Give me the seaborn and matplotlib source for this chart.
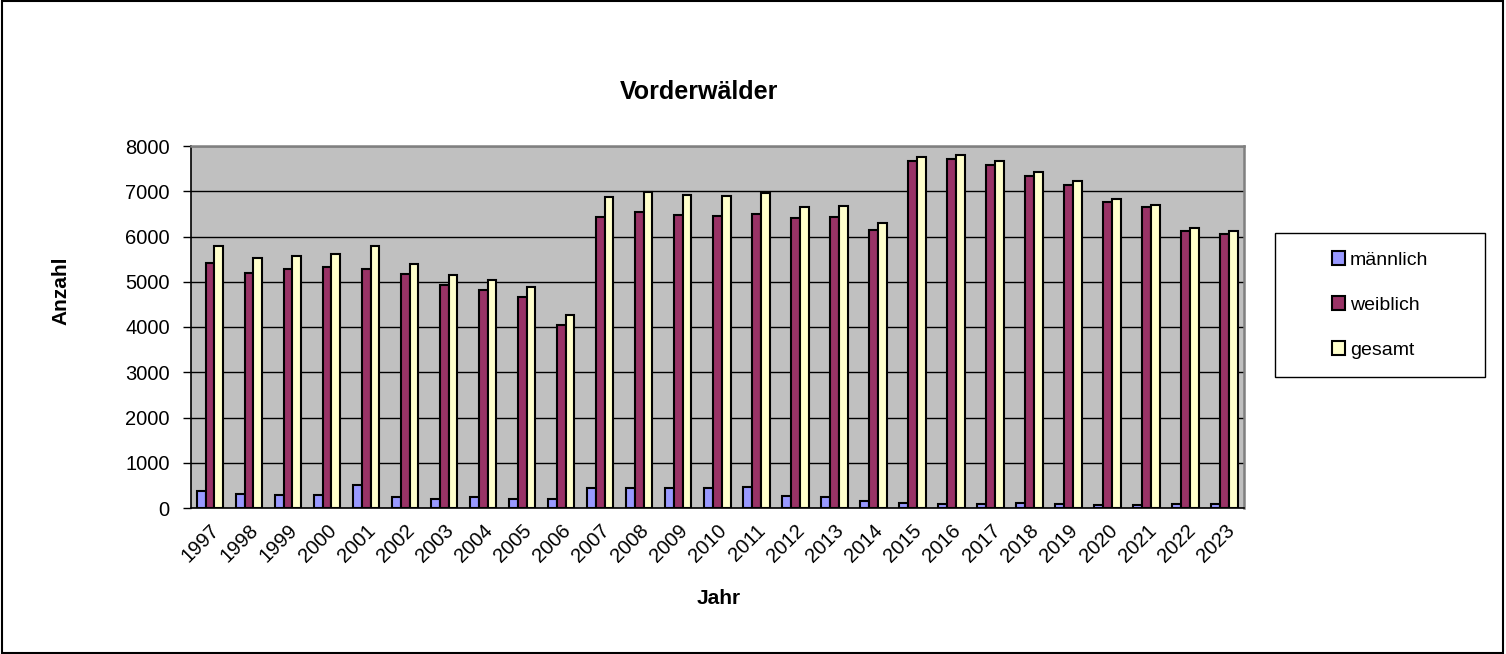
import numpy as np
import pandas as pd
import seaborn as sns
import matplotlib.pyplot as plt
from matplotlib.patches import Rectangle

# Jahre und Anzahl Tiere je Geschlecht
years = [str(y) for y in range(1997, 2024)]
maennlich = [368, 316, 294, 294, 500, 235, 206, 235, 206, 206, 434, 434, 434, 434, 456,
             257, 235, 147, 110, 88, 88, 110, 88, 66, 66, 88, 88]
weiblich = [5419, 5199, 5287, 5331, 5287, 5176, 4934, 4824, 4669, 4051, 6434, 6544, 6478,
            6456, 6500, 6412, 6434, 6147, 7669, 7713, 7581, 7338, 7140, 6765, 6654, 6125, 6059]
gesamt = [5787, 5515, 5574, 5618, 5787, 5397, 5154, 5044, 4890, 4272, 6875, 6985, 6919,
          6897, 6963, 6654, 6676, 6301, 7757, 7801, 7669, 7426, 7228, 6831, 6699, 6191, 6125]
series = ["männlich", "weiblich", "gesamt"]
colors = ["#9999FF", "#993366", "#FFFFCC"]

df = pd.DataFrame({"Jahr": years, "männlich": maennlich, "weiblich": weiblich, "gesamt": gesamt})
df = df.melt(id_vars="Jahr", var_name="Geschlecht", value_name="Anzahl")

sns.set_style("white")
plt.rcParams["font.family"] = ["Liberation Sans", "DejaVu Sans"]
plt.rcParams.update({"text.color": "black", "axes.labelcolor": "black",
                     "xtick.color": "black", "ytick.color": "black"})

W, H = 1506, 654
fig = plt.figure(figsize=(W / 100, H / 100), dpi=100)
ax = fig.add_axes([190.5 / W, 1 - 508 / H, (1244 - 190.5) / W, (508 - 146) / H])

sns.barplot(data=df, x="Jahr", y="Anzahl", hue="Geschlecht", hue_order=series,
            palette=colors, width=0.68, gap=0, edgecolor="black", linewidth=1.5,
            saturation=1, ax=ax, legend=False)

ax.set_facecolor("#C0C0C0")
ax.set_ylim(0, 8000)
ax.set_xlim(-0.5, len(years) - 0.5)
ax.set_yticks(np.arange(0, 8001, 1000))
ax.yaxis.grid(True, color="black", linewidth=1)
ax.set_axisbelow(True)
for s in ["left", "bottom"]:
    ax.spines[s].set_color("black")
    ax.spines[s].set_linewidth(1.2)
for s in ["top", "right"]:
    ax.spines[s].set_color("#808080")
    ax.spines[s].set_linewidth(1.8)

# Tick-Striche zwischen den Kategorien
ax.set_xticks(np.arange(-0.5, len(years), 1), minor=True)
ax.tick_params(axis="x", which="major", length=0, labelsize=14.5, pad=9, labelcolor="black")
ax.tick_params(axis="x", which="minor", length=7, width=1, color="black", direction="out")
ax.tick_params(axis="y", length=6, width=1, color="black", direction="out",
               labelsize=14.5, left=True, pad=9, labelcolor="black")
plt.setp(ax.get_xticklabels(), rotation=45, ha="right", rotation_mode="anchor")

ax.set_xlabel("")
ax.set_ylabel("")
fig.text(719 / W, 1 - 598 / H, "Jahr", fontsize=15, fontweight="bold", ha="center", va="center")
fig.text(61 / W, 1 - 291 / H, "Anzahl", fontsize=15, fontweight="bold", rotation=90,
         ha="center", va="center")
fig.text(699 / W, 1 - 92 / H, "Vorderwälder", fontsize=18, fontweight="bold",
         ha="center", va="center")

# Legende: Rahmen separat, Einträge mittig darin
fig.patches.append(Rectangle((1275 / W, 1 - 377 / H), 210 / W, 144 / H, transform=fig.transFigure,
                             fill=False, edgecolor="black", linewidth=1))
handles = [Rectangle((0, 0), 1, 1, facecolor=c, edgecolor="black", linewidth=1.5) for c in colors]
leg = fig.legend(handles, series, loc="center", bbox_to_anchor=(1380 / W, 1 - 305 / H),
                 frameon=False, fontsize=14, labelspacing=1.4,
                 handlelength=0.7, handleheight=0.7, handletextpad=0.25,
                 borderpad=0, borderaxespad=0)
for t in leg.get_texts():
    t.set_color("black")

fig.patches.append(Rectangle((0.001, 0.001), 0.997, 0.997, transform=fig.transFigure,
                             fill=False, edgecolor="black", linewidth=1.5))

fig.savefig("out.png", dpi=100)
